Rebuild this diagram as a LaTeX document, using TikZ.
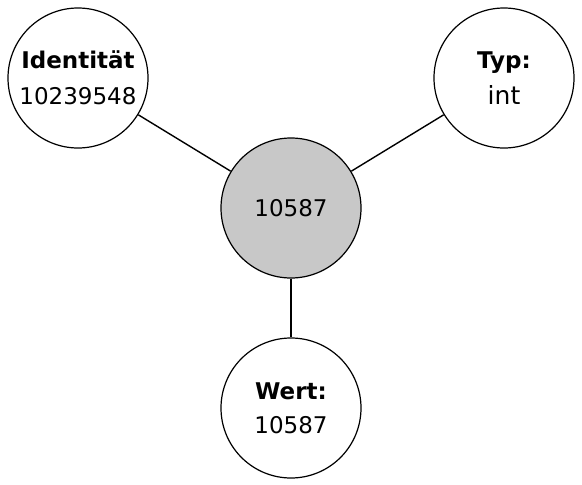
\documentclass[tikz,border=0pt]{standalone}
\usepackage{fontspec}
\setmainfont{DejaVu Sans}
\usepackage{tikz}
\definecolor{objgray}{HTML}{C8C8C8}
\tikzset{
   attr/.style={draw=black, circle, line width=1.2pt, minimum size=140pt, inner sep=0pt,
                align=center, font=\fontsize{23}{36.5}\selectfont},
   obj/.style={attr, fill=objgray},
   link/.style={line width=1.4pt}
}
\begin{document}
\begin{tikzpicture}[x=1pt,y=-1pt]
\useasboundingbox (0,0) rectangle (582,485);
\node[obj] (obj) at (291,208) {10587};
\node[attr] (ident) at (78,78) {\textbf{Identität}\\10239548};
\node[attr] (typ) at (504,78) {\textbf{Typ:}\\{\fontsize{25}{36.5}\selectfont int}};
\node[attr, font=\fontsize{23}{34}\selectfont] (wert) at (291,408) {\textbf{Wert:}\\10587};
\draw[link] (obj) -- (ident);
\draw[link] (obj) -- (typ);
\draw[link] (obj) -- (wert);
\end{tikzpicture}
\end{document}
